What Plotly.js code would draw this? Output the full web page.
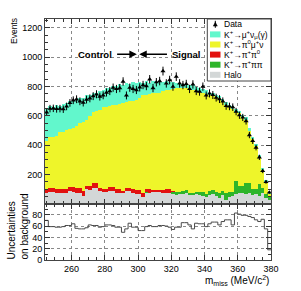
<!DOCTYPE html>
<html>
<head>
<meta charset="utf-8">
<script src="https://cdn.plot.ly/plotly-3.0.1.min.js"></script>
<style>html,body{margin:0;padding:0;background:#fff;}#chart{width:301px;height:291px;}</style>
</head>
<body>
<div id="chart"></div>
<script>
// Binning: 2 MeV/c^2 bins from 244 to 380
const binLow = 244;
const binWidth = 2;

// Data (events per bin)
const dataCounts = [625,650,652,648,650,646,665,689,707,714,
  700,691,712,720,735,748,732,741,760,770,
  793,784,790,835,740,793,784,777,795,811,
  804,850,790,830,838,906,822,845,800,868,
  822,811,818,784,815,770,766,800,740,754,
  743,725,715,700,668,665,660,630,605,590,
  565,470,430,385,318,225,150,79];

// Stacked MC components (bottom to top)
const halo = [72,81,80,72,73,77,76,86,85,77,
  78,53,100,98,112,110,88,81,80,91,
  90,77,76,72,88,87,77,65,66,49,
  77,76,81,80,80,78,75,73,70,62,
  66,70,72,60,63,65,60,52,45,62,
  68,55,40,62,30,45,55,65,75,72,
  70,72,60,68,52,72,40,30];
const pipipi = [0,0,0,0,0,0,0,0,0,0,
  0,0,0,0,0,0,0,0,0,0,
  0,0,0,0,0,0,0,0,0,0,
  2,2,0,0,0,0,2,2,10,18,
  15,18,20,18,15,20,22,30,20,28,
  25,30,35,25,45,35,25,95,45,50,
  75,70,45,35,85,35,30,15];
const pipi0 = [33,31,32,28,27,28,29,30,31,30,
  29,35,23,25,30,32,24,19,21,23,
  24,23,24,16,24,25,23,28,27,23,
  23,24,14,15,15,18,25,28,8,3,
  2,1,1,0,0,0,0,0,0,0,
  0,0,0,0,0,0,0,0,0,0,
  0,0,0,0,0,0,0,0];
const pi0munu = [325,348,348,362,390,387,400,396,399,423,
  443,472,447,477,488,493,528,560,561,556,
  561,578,585,602,583,588,605,619,627,668,
  643,648,660,663,665,674,673,677,697,707,
  707,703,697,702,697,685,683,678,685,655,
  642,645,650,613,600,580,565,470,498,473,
  430,358,340,292,183,123,80,25];
const munu = [225,205,198,210,180,192,182,190,196,180,
  175,165,170,140,128,122,133,115,126,120,
  128,127,133,124,128,118,124,110,112,88,
  92,78,83,72,78,62,64,50,48,35,
  38,28,31,30,33,26,27,21,24,15,
  19,10,12,16,22,18,22,18,19,15,
  15,17,13,16,14,16,13,5];

// Lower panel: uncertainties on background
const uncert = [70,59,59,58,58,59,61,61,64,56,
  55,55,57,62,61,61,58,59,62,62,
  61,58,58,49,55,65,58,58,52,52,
  59,61,59,59,61,61,60,58,54,58,
  58,66,66,62,55,65,64,64,59,64,
  67,67,62,68,71,71,62,83,81,79,
  79,77,75,71,68,72,55,18];

const legendLabels = ['Data','K<sup>+</sup>→μ<sup>+</sup>ν<sub>μ</sub>(γ)','K<sup>+</sup>→π<sup>0</sup>μ<sup>+</sup>ν','K<sup>+</sup>→π<sup>+</sup>π<sup>0</sup>','K<sup>+</sup>→π<sup>+</sup>ππ','Halo'];
const colors = {munu:'#62f7cc', pi0munu:'#eef52a', pipi0:'#e2110f', pipipi:'#2db52a', halo:'#d3d7d7'};

const centers = dataCounts.map((_, i) => binLow + binWidth * (i + 0.5));
const edges = uncert.map((_, i) => binLow + binWidth * i).concat([binLow + binWidth * uncert.length]);
const uncertStep = uncert.concat([uncert[uncert.length - 1]]);

function bar(y, color, name) {
  return {type:'bar', x:centers, y:y, name:name, xaxis:'x', yaxis:'y',
    marker:{color:color, line:{width:0}}, hoverinfo:'skip', showlegend:false};
}
const traces = [
  bar(halo, colors.halo, 'Halo'),
  bar(pipipi, colors.pipipi, 'pipipi'),
  bar(pipi0, colors.pipi0, 'pipi0'),
  bar(pi0munu, colors.pi0munu, 'pi0munu'),
  bar(munu, colors.munu, 'munu'),
  {type:'scatter', mode:'markers', x:centers, y:dataCounts, xaxis:'x', yaxis:'y',
    marker:{symbol:'triangle-up', size:4.5, color:'#000'},
    error_y:{type:'sqrt', color:'#000', thickness:1, width:0}, showlegend:false, hoverinfo:'skip'},
  {type:'scatter', mode:'lines', x:edges, y:uncertStep, xaxis:'x2', yaxis:'y2',
    line:{shape:'hv', color:'#4a4a4a', width:1}, showlegend:false, hoverinfo:'skip'}
];

const FONT = 'Liberation Sans, Arial, sans-serif';
const L = 45, R = 30, T = 19, B = 31, W = 301, H = 291;
const pw = W - L - R, ph = H - T - B;
const px = v => (v - L) / pw;
const py = v => (H - B - v) / ph;

const axBase = {ticks:'inside', ticklen:5, tickcolor:'#333', showline:true, linecolor:'#444', linewidth:1,
  mirror:'allticks', zeroline:false, showgrid:true, griddash:'dot', gridcolor:'#888', gridwidth:1,
  tickfont:{family:FONT, size:9, color:'#000'}};

const split = 0.2324;
const layout = {
  width:W, height:H, margin:{l:L, r:R, t:T, b:B}, paper_bgcolor:'#fff', plot_bgcolor:'#fff',
  barmode:'stack', bargap:0, showlegend:false, font:{family:FONT, color:'#000'},
  xaxis: Object.assign({}, axBase, {domain:[0,1], range:[244,380], anchor:'y', showticklabels:false,
    tick0:240, dtick:20, minor:{ticks:'inside', ticklen:3, tickcolor:'#333', tick0:240, dtick:5, showgrid:false}}),
  yaxis: Object.assign({}, axBase, {domain:[split,1], range:[0,1261], anchor:'x',
    tickmode:'array', tickvals:[200,400,600,800,1000,1200],
    minor:{ticks:'inside', ticklen:3, tickcolor:'#333', tickmode:'linear', tick0:0, dtick:50, showgrid:false}}),
  xaxis2: Object.assign({}, axBase, {domain:[0,1], range:[244,380], anchor:'y2', matches:'x',
    tick0:240, dtick:20, minor:{ticks:'inside', ticklen:3, tickcolor:'#333', tick0:240, dtick:5, showgrid:false}}),
  yaxis2: Object.assign({}, axBase, {domain:[0,split], range:[0,99], anchor:'x2',
    tick0:0, dtick:20, minor:{ticks:'inside', ticklen:3, tickcolor:'#333', tick0:0, dtick:10, showgrid:false}}),
  shapes: [], annotations: []
};

// Legend box
layout.shapes.push({type:'rect', xref:'paper', yref:'paper', x0:px(207.3), x1:1, y0:py(81), y1:1,
  line:{color:'#444', width:1}, fillcolor:'#fff', layer:'above'});
const rowY = [24.3, 34.4, 44.5, 54.6, 64.7, 74.8];
const swatchColors = [null, colors.munu, colors.pi0munu, colors.pipi0, colors.pipipi, colors.halo];
legendLabels.forEach((lab, i) => {
  const yc = rowY[i];
  if (swatchColors[i]) {
    layout.shapes.push({type:'rect', xref:'paper', yref:'paper', x0:px(210), x1:px(220.5), y0:py(yc+3), y1:py(yc-3),
      line:{width:0}, fillcolor:swatchColors[i], layer:'above'});
  } else {
    const cx = 215.3;
    layout.shapes.push({type:'line', xref:'paper', yref:'paper', x0:px(cx), x1:px(cx), y0:py(yc+3.5), y1:py(yc-3.5),
      line:{color:'#000', width:1}, layer:'above'});
    layout.shapes.push({type:'path', xref:'paper', yref:'paper', layer:'above', fillcolor:'#000', line:{color:'#000', width:0.5},
      path:`M ${px(cx-2)} ${py(yc+1.8)} L ${px(cx+2)} ${py(yc+1.8)} L ${px(cx)} ${py(yc-2)} Z`});
  }
  layout.annotations.push({xref:'paper', yref:'paper', x:px(222.3), y:py(yc), xanchor:'left', yanchor:'middle',
    text:lab, showarrow:false, font:{family:FONT, size:8.5, color:'#000'}});
});

// Axis titles
layout.annotations.push({xref:'paper', yref:'paper', x:px(14), y:py(16), xanchor:'center', yanchor:'top',
  text:'Events', textangle:-90, showarrow:false, font:{family:FONT, size:8.5, color:'#000'}});
layout.annotations.push({xref:'paper', yref:'paper', x:px(17.5), y:py(262), xanchor:'center', yanchor:'bottom',
  text:'Uncertainties<br>on background', align:'left', textangle:-90, showarrow:false,
  font:{family:FONT, size:10, color:'#000'}});
layout.annotations.push({xref:'paper', yref:'paper', x:1, y:py(280), xanchor:'right', yanchor:'middle',
  text:'m<sub>miss</sub> (MeV/c<sup>2</sup>)', showarrow:false, font:{family:FONT, size:10, color:'#000'}});

// Control / Signal
layout.annotations.push({xref:'x', yref:'y', x:285.4, y:1020, xanchor:'right', yanchor:'middle',
  text:'<b>Control</b>', showarrow:false, font:{family:FONT, size:9.5, color:'#000'}});
layout.annotations.push({xref:'x', yref:'y', x:319.3, y:1020, xanchor:'left', yanchor:'middle',
  text:'<b>Signal</b>', showarrow:false, font:{family:FONT, size:9.5, color:'#000'}});
layout.annotations.push({xref:'x', yref:'y', x:299.3, y:1020, axref:'x', ayref:'y', ax:286.5, ay:1020,
  text:'', showarrow:true, arrowhead:2, arrowsize:1, arrowwidth:1.5, arrowcolor:'#000'});
layout.annotations.push({xref:'x', yref:'y', x:300.7, y:1020, axref:'x', ayref:'y', ax:318.3, ay:1020,
  text:'', showarrow:true, arrowhead:2, arrowsize:1, arrowwidth:1.5, arrowcolor:'#000'});

Plotly.newPlot('chart', traces, layout, {staticPlot:true, displayModeBar:false});
</script>
</body>
</html>
